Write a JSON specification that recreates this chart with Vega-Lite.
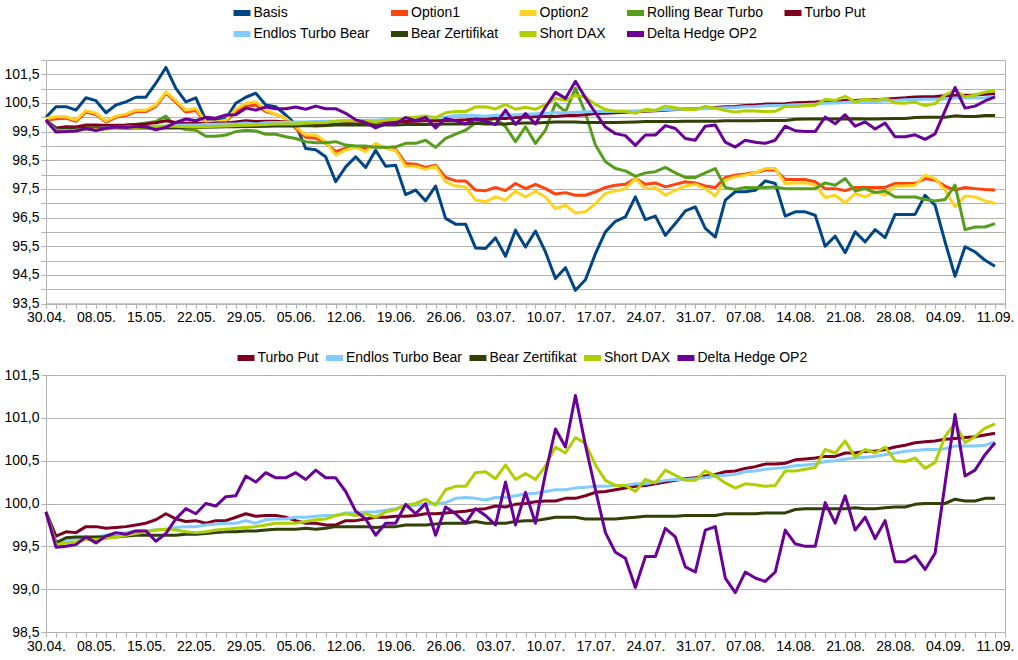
{
"$schema": "https://vega.github.io/schema/vega-lite/v6.json",
"padding": {"left": 3, "top": 4, "right": 0, "bottom": 0},
"background": "white",
"config": {
 "view": {"stroke": "#b3b3b3", "strokeWidth": 1},
 "font": "Liberation Sans",
 "axis": {"labelFont": "Liberation Sans", "labelFontSize": 14, "labelColor": "black", "domainColor": "#b3b3b3", "tickColor": "#b3b3b3", "gridColor": "#b3b3b3", "tickSize": 5, "labelPadding": 2, "title": null, "labelOverlap": false, "labelFlush": false},
 "legend": {"labelFont": "Liberation Sans", "labelFontSize": 14, "labelColor": "black", "symbolType": "M-1.7,0H1.7", "symbolStrokeWidth": 6, "symbolSize": 100, "labelOffset": 3.5, "columnPadding": 8.5, "rowPadding": -3, "padding": 0, "title": null}
},
"datasets": {"d": [
{"i":0,"d":"30.04.","Basis":100.0,"Option1":99.9,"Option2":99.96,"Rolling Bear Turbo":99.9,"Turbo Put":99.9,"Endlos Turbo Bear":99.9,"Bear Zertifikat":99.9,"Short DAX":99.9,"Delta Hedge OP2":99.9},
{"i":1,"d":"02.05.","Basis":100.37,"Option1":99.95,"Option2":100.02,"Rolling Bear Turbo":99.62,"Turbo Put":99.62,"Endlos Turbo Bear":99.55,"Bear Zertifikat":99.54,"Short DAX":99.52,"Delta Hedge OP2":99.49},
{"i":2,"d":"03.05.","Basis":100.37,"Option1":99.97,"Option2":100.02,"Rolling Bear Turbo":99.64,"Turbo Put":99.67,"Endlos Turbo Bear":99.57,"Bear Zertifikat":99.6,"Short DAX":99.54,"Delta Hedge OP2":99.5},
{"i":3,"d":"04.05.","Basis":100.25,"Option1":99.86,"Option2":99.9,"Rolling Bear Turbo":99.65,"Turbo Put":99.66,"Endlos Turbo Bear":99.59,"Bear Zertifikat":99.61,"Short DAX":99.55,"Delta Hedge OP2":99.52},
{"i":4,"d":"07.05.","Basis":100.68,"Option1":100.18,"Option2":100.23,"Rolling Bear Turbo":99.66,"Turbo Put":99.73,"Endlos Turbo Bear":99.6,"Bear Zertifikat":99.61,"Short DAX":99.58,"Delta Hedge OP2":99.61},
{"i":5,"d":"08.05.","Basis":100.58,"Option1":100.1,"Option2":100.14,"Rolling Bear Turbo":99.67,"Turbo Put":99.73,"Endlos Turbo Bear":99.61,"Bear Zertifikat":99.61,"Short DAX":99.58,"Delta Hedge OP2":99.54},
{"i":6,"d":"09.05.","Basis":100.16,"Option1":99.83,"Option2":99.87,"Rolling Bear Turbo":99.68,"Turbo Put":99.71,"Endlos Turbo Bear":99.63,"Bear Zertifikat":99.61,"Short DAX":99.59,"Delta Hedge OP2":99.62},
{"i":7,"d":"10.05.","Basis":100.43,"Option1":100.0,"Option2":100.04,"Rolling Bear Turbo":99.7,"Turbo Put":99.72,"Endlos Turbo Bear":99.65,"Bear Zertifikat":99.61,"Short DAX":99.61,"Delta Hedge OP2":99.66},
{"i":8,"d":"11.05.","Basis":100.54,"Option1":100.06,"Option2":100.11,"Rolling Bear Turbo":99.72,"Turbo Put":99.73,"Endlos Turbo Bear":99.66,"Bear Zertifikat":99.62,"Short DAX":99.63,"Delta Hedge OP2":99.64},
{"i":9,"d":"14.05.","Basis":100.7,"Option1":100.2,"Option2":100.25,"Rolling Bear Turbo":99.75,"Turbo Put":99.75,"Endlos Turbo Bear":99.68,"Bear Zertifikat":99.63,"Short DAX":99.65,"Delta Hedge OP2":99.68},
{"i":10,"d":"15.05.","Basis":100.7,"Option1":100.2,"Option2":100.25,"Rolling Bear Turbo":99.8,"Turbo Put":99.77,"Endlos Turbo Bear":99.68,"Bear Zertifikat":99.63,"Short DAX":99.67,"Delta Hedge OP2":99.68},
{"i":11,"d":"16.05.","Basis":101.19,"Option1":100.38,"Option2":100.43,"Rolling Bear Turbo":99.85,"Turbo Put":99.81,"Endlos Turbo Bear":99.69,"Bear Zertifikat":99.63,"Short DAX":99.69,"Delta Hedge OP2":99.56},
{"i":12,"d":"17.05.","Basis":101.74,"Option1":100.84,"Option2":100.89,"Rolling Bear Turbo":100.04,"Turbo Put":99.88,"Endlos Turbo Bear":99.7,"Bear Zertifikat":99.63,"Short DAX":99.7,"Delta Hedge OP2":99.65},
{"i":13,"d":"18.05.","Basis":101.01,"Option1":100.53,"Option2":100.58,"Rolling Bear Turbo":99.68,"Turbo Put":99.82,"Endlos Turbo Bear":99.72,"Bear Zertifikat":99.63,"Short DAX":99.69,"Delta Hedge OP2":99.82},
{"i":14,"d":"21.05.","Basis":100.54,"Option1":100.18,"Option2":100.25,"Rolling Bear Turbo":99.57,"Turbo Put":99.79,"Endlos Turbo Bear":99.73,"Bear Zertifikat":99.64,"Short DAX":99.67,"Delta Hedge OP2":99.94},
{"i":15,"d":"22.05.","Basis":100.68,"Option1":100.24,"Option2":100.31,"Rolling Bear Turbo":99.55,"Turbo Put":99.8,"Endlos Turbo Bear":99.73,"Bear Zertifikat":99.64,"Short DAX":99.66,"Delta Hedge OP2":99.88},
{"i":16,"d":"23.05.","Basis":99.9,"Option1":99.8,"Option2":99.84,"Rolling Bear Turbo":99.34,"Turbo Put":99.77,"Endlos Turbo Bear":99.75,"Bear Zertifikat":99.65,"Short DAX":99.67,"Delta Hedge OP2":100.0},
{"i":17,"d":"24.05.","Basis":99.9,"Option1":99.8,"Option2":99.84,"Rolling Bear Turbo":99.34,"Turbo Put":99.8,"Endlos Turbo Bear":99.76,"Bear Zertifikat":99.66,"Short DAX":99.69,"Delta Hedge OP2":99.97},
{"i":18,"d":"25.05.","Basis":99.95,"Option1":99.86,"Option2":99.9,"Rolling Bear Turbo":99.38,"Turbo Put":99.8,"Endlos Turbo Bear":99.77,"Bear Zertifikat":99.67,"Short DAX":99.7,"Delta Hedge OP2":100.08},
{"i":19,"d":"28.05.","Basis":100.49,"Option1":100.2,"Option2":100.28,"Rolling Bear Turbo":99.5,"Turbo Put":99.84,"Endlos Turbo Bear":99.77,"Bear Zertifikat":99.67,"Short DAX":99.71,"Delta Hedge OP2":100.09},
{"i":20,"d":"29.05.","Basis":100.7,"Option1":100.38,"Option2":100.49,"Rolling Bear Turbo":99.55,"Turbo Put":99.88,"Endlos Turbo Bear":99.8,"Bear Zertifikat":99.68,"Short DAX":99.72,"Delta Hedge OP2":100.32},
{"i":21,"d":"30.05.","Basis":100.84,"Option1":100.43,"Option2":100.54,"Rolling Bear Turbo":99.52,"Turbo Put":99.85,"Endlos Turbo Bear":99.77,"Bear Zertifikat":99.68,"Short DAX":99.73,"Delta Hedge OP2":100.25},
{"i":22,"d":"31.05.","Basis":100.43,"Option1":100.2,"Option2":100.25,"Rolling Bear Turbo":99.41,"Turbo Put":99.86,"Endlos Turbo Bear":99.81,"Bear Zertifikat":99.69,"Short DAX":99.75,"Delta Hedge OP2":100.36},
{"i":23,"d":"01.06.","Basis":100.37,"Option1":100.1,"Option2":100.1,"Rolling Bear Turbo":99.41,"Turbo Put":99.86,"Endlos Turbo Bear":99.82,"Bear Zertifikat":99.7,"Short DAX":99.77,"Delta Hedge OP2":100.3},
{"i":24,"d":"04.06.","Basis":100.08,"Option1":99.96,"Option2":99.96,"Rolling Bear Turbo":99.32,"Turbo Put":99.84,"Endlos Turbo Bear":99.82,"Bear Zertifikat":99.7,"Short DAX":99.77,"Delta Hedge OP2":100.3},
{"i":25,"d":"05.06.","Basis":99.75,"Option1":99.61,"Option2":99.67,"Rolling Bear Turbo":99.26,"Turbo Put":99.8,"Endlos Turbo Bear":99.84,"Bear Zertifikat":99.7,"Short DAX":99.77,"Delta Hedge OP2":100.36},
{"i":26,"d":"06.06.","Basis":98.91,"Option1":99.3,"Option2":99.38,"Rolling Bear Turbo":99.15,"Turbo Put":99.77,"Endlos Turbo Bear":99.84,"Bear Zertifikat":99.71,"Short DAX":99.79,"Delta Hedge OP2":100.28},
{"i":27,"d":"07.06.","Basis":98.87,"Option1":99.27,"Option2":99.38,"Rolling Bear Turbo":99.11,"Turbo Put":99.77,"Endlos Turbo Bear":99.85,"Bear Zertifikat":99.7,"Short DAX":99.81,"Delta Hedge OP2":100.39},
{"i":28,"d":"08.06.","Basis":98.62,"Option1":99.11,"Option2":99.15,"Rolling Bear Turbo":99.11,"Turbo Put":99.75,"Endlos Turbo Bear":99.86,"Bear Zertifikat":99.71,"Short DAX":99.82,"Delta Hedge OP2":100.3},
{"i":29,"d":"11.06.","Basis":97.75,"Option1":98.8,"Option2":98.68,"Rolling Bear Turbo":99.15,"Turbo Put":99.75,"Endlos Turbo Bear":99.86,"Bear Zertifikat":99.73,"Short DAX":99.86,"Delta Hedge OP2":100.3},
{"i":30,"d":"12.06.","Basis":98.27,"Option1":98.92,"Option2":98.86,"Rolling Bear Turbo":99.03,"Turbo Put":99.8,"Endlos Turbo Bear":99.89,"Bear Zertifikat":99.73,"Short DAX":99.88,"Delta Hedge OP2":100.14},
{"i":31,"d":"13.06.","Basis":98.62,"Option1":98.95,"Option2":98.95,"Rolling Bear Turbo":99.0,"Turbo Put":99.8,"Endlos Turbo Bear":99.89,"Bear Zertifikat":99.73,"Short DAX":99.86,"Delta Hedge OP2":99.91},
{"i":32,"d":"14.06.","Basis":98.25,"Option1":98.92,"Option2":98.8,"Rolling Bear Turbo":99.0,"Turbo Put":99.82,"Endlos Turbo Bear":99.9,"Bear Zertifikat":99.73,"Short DAX":99.88,"Delta Hedge OP2":99.82},
{"i":33,"d":"15.06.","Basis":98.85,"Option1":98.99,"Option2":99.09,"Rolling Bear Turbo":98.95,"Turbo Put":99.84,"Endlos Turbo Bear":99.9,"Bear Zertifikat":99.72,"Short DAX":99.84,"Delta Hedge OP2":99.63},
{"i":34,"d":"18.06.","Basis":98.29,"Option1":98.95,"Option2":98.92,"Rolling Bear Turbo":98.95,"Turbo Put":99.84,"Endlos Turbo Bear":99.92,"Bear Zertifikat":99.73,"Short DAX":99.9,"Delta Hedge OP2":99.77},
{"i":35,"d":"19.06.","Basis":98.33,"Option1":98.88,"Option2":98.84,"Rolling Bear Turbo":98.97,"Turbo Put":99.85,"Endlos Turbo Bear":99.94,"Bear Zertifikat":99.73,"Short DAX":99.93,"Delta Hedge OP2":99.77},
{"i":36,"d":"20.06.","Basis":97.3,"Option1":98.39,"Option2":98.29,"Rolling Bear Turbo":99.09,"Turbo Put":99.85,"Endlos Turbo Bear":99.97,"Bear Zertifikat":99.75,"Short DAX":99.98,"Delta Hedge OP2":99.99},
{"i":37,"d":"21.06.","Basis":97.46,"Option1":98.36,"Option2":98.29,"Rolling Bear Turbo":99.09,"Turbo Put":99.86,"Endlos Turbo Bear":99.98,"Bear Zertifikat":99.75,"Short DAX":100.0,"Delta Hedge OP2":99.88},
{"i":38,"d":"22.06.","Basis":97.08,"Option1":98.25,"Option2":98.18,"Rolling Bear Turbo":99.2,"Turbo Put":99.88,"Endlos Turbo Bear":99.99,"Bear Zertifikat":99.75,"Short DAX":100.05,"Delta Hedge OP2":100.0},
{"i":39,"d":"25.06.","Basis":97.6,"Option1":98.33,"Option2":98.29,"Rolling Bear Turbo":98.95,"Turbo Put":99.88,"Endlos Turbo Bear":100.0,"Bear Zertifikat":99.76,"Short DAX":99.98,"Delta Hedge OP2":99.63},
{"i":40,"d":"26.06.","Basis":96.47,"Option1":97.9,"Option2":97.75,"Rolling Bear Turbo":99.26,"Turbo Put":99.89,"Endlos Turbo Bear":100.01,"Bear Zertifikat":99.77,"Short DAX":100.16,"Delta Hedge OP2":99.96},
{"i":41,"d":"27.06.","Basis":96.27,"Option1":97.78,"Option2":97.6,"Rolling Bear Turbo":99.41,"Turbo Put":99.9,"Endlos Turbo Bear":100.06,"Bear Zertifikat":99.77,"Short DAX":100.2,"Delta Hedge OP2":99.88},
{"i":42,"d":"28.06.","Basis":96.27,"Option1":97.78,"Option2":97.57,"Rolling Bear Turbo":99.55,"Turbo Put":99.91,"Endlos Turbo Bear":100.07,"Bear Zertifikat":99.77,"Short DAX":100.2,"Delta Hedge OP2":99.77},
{"i":43,"d":"29.06.","Basis":95.44,"Option1":97.46,"Option2":97.11,"Rolling Bear Turbo":99.81,"Turbo Put":99.93,"Endlos Turbo Bear":100.06,"Bear Zertifikat":99.79,"Short DAX":100.36,"Delta Hedge OP2":99.94},
{"i":44,"d":"02.07.","Basis":95.42,"Option1":97.44,"Option2":97.05,"Rolling Bear Turbo":99.84,"Turbo Put":99.94,"Endlos Turbo Bear":100.04,"Bear Zertifikat":99.77,"Short DAX":100.37,"Delta Hedge OP2":99.86},
{"i":45,"d":"03.07.","Basis":95.79,"Option1":97.55,"Option2":97.22,"Rolling Bear Turbo":99.96,"Turbo Put":99.97,"Endlos Turbo Bear":100.07,"Bear Zertifikat":99.77,"Short DAX":100.29,"Delta Hedge OP2":99.75},
{"i":46,"d":"04.07.","Basis":95.15,"Option1":97.44,"Option2":97.11,"Rolling Bear Turbo":99.67,"Turbo Put":99.96,"Endlos Turbo Bear":100.07,"Bear Zertifikat":99.77,"Short DAX":100.45,"Delta Hedge OP2":100.25},
{"i":47,"d":"05.07.","Basis":96.06,"Option1":97.69,"Option2":97.42,"Rolling Bear Turbo":99.15,"Turbo Put":99.99,"Endlos Turbo Bear":100.09,"Bear Zertifikat":99.79,"Short DAX":100.28,"Delta Hedge OP2":99.75},
{"i":48,"d":"06.07.","Basis":95.47,"Option1":97.51,"Option2":97.22,"Rolling Bear Turbo":99.67,"Turbo Put":100.0,"Endlos Turbo Bear":100.11,"Bear Zertifikat":99.8,"Short DAX":100.35,"Delta Hedge OP2":100.13},
{"i":49,"d":"09.07.","Basis":96.03,"Option1":97.66,"Option2":97.42,"Rolling Bear Turbo":99.09,"Turbo Put":100.02,"Endlos Turbo Bear":100.12,"Bear Zertifikat":99.8,"Short DAX":100.28,"Delta Hedge OP2":99.77},
{"i":50,"d":"10.07.","Basis":95.3,"Option1":97.51,"Option2":97.22,"Rolling Bear Turbo":99.55,"Turbo Put":100.03,"Endlos Turbo Bear":100.14,"Bear Zertifikat":99.82,"Short DAX":100.44,"Delta Hedge OP2":100.35},
{"i":51,"d":"11.07.","Basis":94.37,"Option1":97.32,"Option2":96.81,"Rolling Bear Turbo":100.49,"Turbo Put":100.03,"Endlos Turbo Bear":100.16,"Bear Zertifikat":99.84,"Short DAX":100.66,"Delta Hedge OP2":100.87},
{"i":52,"d":"12.07.","Basis":94.75,"Option1":97.37,"Option2":96.93,"Rolling Bear Turbo":100.19,"Turbo Put":100.06,"Endlos Turbo Bear":100.16,"Bear Zertifikat":99.84,"Short DAX":100.59,"Delta Hedge OP2":100.66},
{"i":53,"d":"13.07.","Basis":93.96,"Option1":97.28,"Option2":96.66,"Rolling Bear Turbo":101.01,"Turbo Put":100.06,"Endlos Turbo Bear":100.18,"Bear Zertifikat":99.84,"Short DAX":100.77,"Delta Hedge OP2":101.26},
{"i":54,"d":"16.07.","Basis":94.33,"Option1":97.28,"Option2":96.7,"Rolling Bear Turbo":100.14,"Turbo Put":100.09,"Endlos Turbo Bear":100.19,"Bear Zertifikat":99.82,"Short DAX":100.7,"Delta Hedge OP2":100.68},
{"i":55,"d":"17.07.","Basis":95.24,"Option1":97.4,"Option2":96.99,"Rolling Bear Turbo":99.03,"Turbo Put":100.13,"Endlos Turbo Bear":100.2,"Bear Zertifikat":99.82,"Short DAX":100.45,"Delta Hedge OP2":100.16},
{"i":56,"d":"18.07.","Basis":96.0,"Option1":97.55,"Option2":97.34,"Rolling Bear Turbo":98.45,"Turbo Put":100.14,"Endlos Turbo Bear":100.2,"Bear Zertifikat":99.82,"Short DAX":100.27,"Delta Hedge OP2":99.66},
{"i":57,"d":"19.07.","Basis":96.37,"Option1":97.63,"Option2":97.43,"Rolling Bear Turbo":98.21,"Turbo Put":100.16,"Endlos Turbo Bear":100.21,"Bear Zertifikat":99.82,"Short DAX":100.21,"Delta Hedge OP2":99.43},
{"i":58,"d":"20.07.","Basis":96.52,"Option1":97.66,"Option2":97.51,"Rolling Bear Turbo":98.13,"Turbo Put":100.18,"Endlos Turbo Bear":100.21,"Bear Zertifikat":99.83,"Short DAX":100.21,"Delta Hedge OP2":99.36},
{"i":59,"d":"23.07.","Basis":97.22,"Option1":97.86,"Option2":97.86,"Rolling Bear Turbo":97.94,"Turbo Put":100.2,"Endlos Turbo Bear":100.23,"Bear Zertifikat":99.84,"Short DAX":100.14,"Delta Hedge OP2":99.02},
{"i":60,"d":"24.07.","Basis":96.43,"Option1":97.66,"Option2":97.51,"Rolling Bear Turbo":98.06,"Turbo Put":100.21,"Endlos Turbo Bear":100.23,"Bear Zertifikat":99.85,"Short DAX":100.28,"Delta Hedge OP2":99.38},
{"i":61,"d":"25.07.","Basis":96.55,"Option1":97.71,"Option2":97.54,"Rolling Bear Turbo":98.1,"Turbo Put":100.23,"Endlos Turbo Bear":100.25,"Bear Zertifikat":99.85,"Short DAX":100.24,"Delta Hedge OP2":99.38},
{"i":62,"d":"26.07.","Basis":95.88,"Option1":97.57,"Option2":97.28,"Rolling Bear Turbo":98.25,"Turbo Put":100.25,"Endlos Turbo Bear":100.27,"Bear Zertifikat":99.85,"Short DAX":100.39,"Delta Hedge OP2":99.71},
{"i":63,"d":"27.07.","Basis":96.29,"Option1":97.66,"Option2":97.46,"Rolling Bear Turbo":98.06,"Turbo Put":100.27,"Endlos Turbo Bear":100.28,"Bear Zertifikat":99.85,"Short DAX":100.33,"Delta Hedge OP2":99.61},
{"i":64,"d":"30.07.","Basis":96.73,"Option1":97.75,"Option2":97.6,"Rolling Bear Turbo":97.9,"Turbo Put":100.29,"Endlos Turbo Bear":100.28,"Bear Zertifikat":99.86,"Short DAX":100.27,"Delta Hedge OP2":99.26},
{"i":65,"d":"31.07.","Basis":96.87,"Option1":97.71,"Option2":97.66,"Rolling Bear Turbo":97.9,"Turbo Put":100.3,"Endlos Turbo Bear":100.29,"Bear Zertifikat":99.86,"Short DAX":100.27,"Delta Hedge OP2":99.2},
{"i":66,"d":"01.08.","Basis":96.12,"Option1":97.6,"Option2":97.51,"Rolling Bear Turbo":98.06,"Turbo Put":100.32,"Endlos Turbo Bear":100.3,"Bear Zertifikat":99.86,"Short DAX":100.38,"Delta Hedge OP2":99.69},
{"i":67,"d":"02.08.","Basis":95.82,"Option1":97.55,"Option2":97.25,"Rolling Bear Turbo":98.21,"Turbo Put":100.34,"Endlos Turbo Bear":100.32,"Bear Zertifikat":99.86,"Short DAX":100.32,"Delta Hedge OP2":99.73},
{"i":68,"d":"03.08.","Basis":97.11,"Option1":97.9,"Option2":97.81,"Rolling Bear Turbo":97.55,"Turbo Put":100.37,"Endlos Turbo Bear":100.33,"Bear Zertifikat":99.88,"Short DAX":100.24,"Delta Hedge OP2":99.13},
{"i":69,"d":"06.08.","Basis":97.4,"Option1":97.98,"Option2":97.92,"Rolling Bear Turbo":97.48,"Turbo Put":100.38,"Endlos Turbo Bear":100.34,"Bear Zertifikat":99.88,"Short DAX":100.18,"Delta Hedge OP2":98.96},
{"i":70,"d":"07.08.","Basis":97.4,"Option1":98.02,"Option2":97.98,"Rolling Bear Turbo":97.55,"Turbo Put":100.41,"Endlos Turbo Bear":100.37,"Bear Zertifikat":99.88,"Short DAX":100.23,"Delta Hedge OP2":99.2},
{"i":71,"d":"08.08.","Basis":97.45,"Option1":98.07,"Option2":98.07,"Rolling Bear Turbo":97.54,"Turbo Put":100.43,"Endlos Turbo Bear":100.38,"Bear Zertifikat":99.88,"Short DAX":100.22,"Delta Hedge OP2":99.13},
{"i":72,"d":"09.08.","Basis":97.78,"Option1":98.16,"Option2":98.21,"Rolling Bear Turbo":97.55,"Turbo Put":100.46,"Endlos Turbo Bear":100.4,"Bear Zertifikat":99.89,"Short DAX":100.2,"Delta Hedge OP2":99.09},
{"i":73,"d":"10.08.","Basis":97.69,"Option1":98.16,"Option2":98.21,"Rolling Bear Turbo":97.57,"Turbo Put":100.46,"Endlos Turbo Bear":100.41,"Bear Zertifikat":99.89,"Short DAX":100.21,"Delta Hedge OP2":99.2},
{"i":74,"d":"13.08.","Basis":96.55,"Option1":97.83,"Option2":97.69,"Rolling Bear Turbo":97.51,"Turbo Put":100.47,"Endlos Turbo Bear":100.42,"Bear Zertifikat":99.89,"Short DAX":100.38,"Delta Hedge OP2":99.69},
{"i":75,"d":"14.08.","Basis":96.7,"Option1":97.83,"Option2":97.71,"Rolling Bear Turbo":97.51,"Turbo Put":100.51,"Endlos Turbo Bear":100.44,"Bear Zertifikat":99.93,"Short DAX":100.38,"Delta Hedge OP2":99.53},
{"i":76,"d":"15.08.","Basis":96.7,"Option1":97.83,"Option2":97.71,"Rolling Bear Turbo":97.51,"Turbo Put":100.52,"Endlos Turbo Bear":100.45,"Bear Zertifikat":99.94,"Short DAX":100.4,"Delta Hedge OP2":99.5},
{"i":77,"d":"16.08.","Basis":96.58,"Option1":97.75,"Option2":97.63,"Rolling Bear Turbo":97.51,"Turbo Put":100.53,"Endlos Turbo Bear":100.46,"Bear Zertifikat":99.94,"Short DAX":100.42,"Delta Hedge OP2":99.5},
{"i":78,"d":"17.08.","Basis":95.5,"Option1":97.51,"Option2":97.2,"Rolling Bear Turbo":97.71,"Turbo Put":100.55,"Endlos Turbo Bear":100.49,"Bear Zertifikat":99.94,"Short DAX":100.63,"Delta Hedge OP2":100.01},
{"i":79,"d":"20.08.","Basis":95.85,"Option1":97.51,"Option2":97.28,"Rolling Bear Turbo":97.63,"Turbo Put":100.55,"Endlos Turbo Bear":100.5,"Bear Zertifikat":99.94,"Short DAX":100.59,"Delta Hedge OP2":99.77},
{"i":80,"d":"21.08.","Basis":95.27,"Option1":97.44,"Option2":97.01,"Rolling Bear Turbo":97.86,"Turbo Put":100.59,"Endlos Turbo Bear":100.52,"Bear Zertifikat":99.94,"Short DAX":100.73,"Delta Hedge OP2":100.09},
{"i":81,"d":"22.08.","Basis":96.0,"Option1":97.55,"Option2":97.34,"Rolling Bear Turbo":97.43,"Turbo Put":100.59,"Endlos Turbo Bear":100.53,"Bear Zertifikat":99.95,"Short DAX":100.54,"Delta Hedge OP2":99.69},
{"i":82,"d":"23.08.","Basis":95.65,"Option1":97.55,"Option2":97.22,"Rolling Bear Turbo":97.51,"Turbo Put":100.61,"Endlos Turbo Bear":100.54,"Bear Zertifikat":99.94,"Short DAX":100.63,"Delta Hedge OP2":99.84},
{"i":83,"d":"24.08.","Basis":96.08,"Option1":97.55,"Option2":97.4,"Rolling Bear Turbo":97.37,"Turbo Put":100.61,"Endlos Turbo Bear":100.55,"Bear Zertifikat":99.94,"Short DAX":100.59,"Delta Hedge OP2":99.59},
{"i":84,"d":"27.08.","Basis":95.8,"Option1":97.55,"Option2":97.28,"Rolling Bear Turbo":97.43,"Turbo Put":100.63,"Endlos Turbo Bear":100.57,"Bear Zertifikat":99.95,"Short DAX":100.66,"Delta Hedge OP2":99.8},
{"i":85,"d":"28.08.","Basis":96.61,"Option1":97.69,"Option2":97.6,"Rolling Bear Turbo":97.22,"Turbo Put":100.66,"Endlos Turbo Bear":100.59,"Bear Zertifikat":99.96,"Short DAX":100.5,"Delta Hedge OP2":99.32},
{"i":86,"d":"29.08.","Basis":96.61,"Option1":97.69,"Option2":97.6,"Rolling Bear Turbo":97.22,"Turbo Put":100.68,"Endlos Turbo Bear":100.61,"Bear Zertifikat":99.96,"Short DAX":100.49,"Delta Hedge OP2":99.32},
{"i":87,"d":"30.08.","Basis":96.61,"Option1":97.69,"Option2":97.63,"Rolling Bear Turbo":97.22,"Turbo Put":100.71,"Endlos Turbo Bear":100.62,"Bear Zertifikat":99.99,"Short DAX":100.53,"Delta Hedge OP2":99.39},
{"i":88,"d":"31.08.","Basis":97.28,"Option1":97.86,"Option2":97.98,"Rolling Bear Turbo":97.13,"Turbo Put":100.72,"Endlos Turbo Bear":100.63,"Bear Zertifikat":100.0,"Short DAX":100.41,"Delta Hedge OP2":99.23},
{"i":89,"d":"03.09.","Basis":96.93,"Option1":97.81,"Option2":97.86,"Rolling Bear Turbo":97.08,"Turbo Put":100.73,"Endlos Turbo Bear":100.63,"Bear Zertifikat":100.0,"Short DAX":100.48,"Delta Hedge OP2":99.42},
{"i":90,"d":"04.09.","Basis":95.65,"Option1":97.6,"Option2":97.46,"Rolling Bear Turbo":97.13,"Turbo Put":100.75,"Endlos Turbo Bear":100.64,"Bear Zertifikat":100.0,"Short DAX":100.78,"Delta Hedge OP2":100.23},
{"i":91,"d":"05.09.","Basis":94.45,"Option1":97.46,"Option2":96.87,"Rolling Bear Turbo":97.63,"Turbo Put":100.76,"Endlos Turbo Bear":100.67,"Bear Zertifikat":100.05,"Short DAX":100.94,"Delta Hedge OP2":101.04},
{"i":92,"d":"06.09.","Basis":95.48,"Option1":97.55,"Option2":97.25,"Rolling Bear Turbo":96.08,"Turbo Put":100.77,"Endlos Turbo Bear":100.67,"Bear Zertifikat":100.03,"Short DAX":100.71,"Delta Hedge OP2":100.32},
{"i":93,"d":"07.09.","Basis":95.3,"Option1":97.51,"Option2":97.22,"Rolling Bear Turbo":96.17,"Turbo Put":100.78,"Endlos Turbo Bear":100.67,"Bear Zertifikat":100.03,"Short DAX":100.78,"Delta Hedge OP2":100.39},
{"i":94,"d":"10.09.","Basis":95.01,"Option1":97.48,"Option2":97.08,"Rolling Bear Turbo":96.17,"Turbo Put":100.8,"Endlos Turbo Bear":100.68,"Bear Zertifikat":100.06,"Short DAX":100.88,"Delta Hedge OP2":100.57},
{"i":95,"d":"11.09.","Basis":94.8,"Option1":97.46,"Option2":96.99,"Rolling Bear Turbo":96.29,"Turbo Put":100.82,"Endlos Turbo Bear":100.72,"Bear Zertifikat":100.06,"Short DAX":100.93,"Delta Hedge OP2":100.71}
]},
"vconcat": [
 {
  "width": 959, "height": 243.5,
  "data": {"name": "d"},
  "transform": [{"fold": ["Basis","Option1","Option2","Rolling Bear Turbo","Turbo Put","Endlos Turbo Bear","Bear Zertifikat","Short DAX","Delta Hedge OP2"], "as": ["series","value"]}],
  "mark": {"type": "line", "strokeWidth": 3, "strokeJoin": "round"},
  "encoding": {
   "x": {"field": "i", "type": "quantitative", "scale": {"domain": [0, 96], "nice": false, "zero": false},
    "axis": {"grid": false, "values": [0,1,2,3,4,5,6,7,8,9,10,11,12,13,14,15,16,17,18,19,20,21,22,23,24,25,26,27,28,29,30,31,32,33,34,35,36,37,38,39,40,41,42,43,44,45,46,47,48,49,50,51,52,53,54,55,56,57,58,59,60,61,62,63,64,65,66,67,68,69,70,71,72,73,74,75,76,77,78,79,80,81,82,83,84,85,86,87,88,89,90,91,92,93,94,95,96],
     "labelExpr": "datum.value % 5 == 0 && datum.value < 96 ? ['30.04.','08.05.','15.05.','22.05.','29.05.','05.06.','12.06.','19.06.','26.06.','03.07.','10.07.','17.07.','24.07.','31.07.','07.08.','14.08.','21.08.','28.08.','04.09.','11.09.'][datum.value / 5] : ''"}},
   "y": {"field": "value", "type": "quantitative", "scale": {"domain": [93.5, 102], "nice": false, "zero": false},
    "axis": {"grid": true, "values": [93.5,94,94.5,95,95.5,96,96.5,97,97.5,98,98.5,99,99.5,100,100.5,101,101.5,102],
     "labelExpr": "(datum.value * 2) % 2 == 1 ? replace(format(datum.value, '.1f'), '.', ',') : ''"}},
   "color": {"field": "series", "type": "nominal",
    "scale": {"domain": ["Basis","Option1","Option2","Rolling Bear Turbo","Turbo Put","Endlos Turbo Bear","Bear Zertifikat","Short DAX","Delta Hedge OP2"],
     "range": ["#004586","#ff420e","#ffd320","#579d1c","#7e0021","#83caff","#314004","#aecf00","#6a0097"]},
    "legend": {"orient": "none", "legendX": 188, "legendY": -55, "direction": "horizontal", "columns": 5}}
  }
 },
 {
  "width": 959, "height": 257,
  "data": {"name": "d"},
  "transform": [{"fold": ["Turbo Put","Endlos Turbo Bear","Bear Zertifikat","Short DAX","Delta Hedge OP2"], "as": ["series","value"]}],
  "mark": {"type": "line", "strokeWidth": 3, "strokeJoin": "round"},
  "encoding": {
   "x": {"field": "i", "type": "quantitative", "scale": {"domain": [0, 96], "nice": false, "zero": false},
    "axis": {"grid": false, "values": [0,1,2,3,4,5,6,7,8,9,10,11,12,13,14,15,16,17,18,19,20,21,22,23,24,25,26,27,28,29,30,31,32,33,34,35,36,37,38,39,40,41,42,43,44,45,46,47,48,49,50,51,52,53,54,55,56,57,58,59,60,61,62,63,64,65,66,67,68,69,70,71,72,73,74,75,76,77,78,79,80,81,82,83,84,85,86,87,88,89,90,91,92,93,94,95,96],
     "labelExpr": "datum.value % 5 == 0 && datum.value < 96 ? ['30.04.','08.05.','15.05.','22.05.','29.05.','05.06.','12.06.','19.06.','26.06.','03.07.','10.07.','17.07.','24.07.','31.07.','07.08.','14.08.','21.08.','28.08.','04.09.','11.09.'][datum.value / 5] : ''"}},
   "y": {"field": "value", "type": "quantitative", "scale": {"domain": [98.5, 101.5], "nice": false, "zero": false},
    "axis": {"grid": true, "values": [98.5,99,99.5,100,100.5,101,101.5],
     "labelExpr": "replace(format(datum.value, '.1f'), '.', ',')"}},
   "color": {"field": "series", "type": "nominal",
    "scale": {"domain": ["Turbo Put","Endlos Turbo Bear","Bear Zertifikat","Short DAX","Delta Hedge OP2"],
     "range": ["#7e0021","#83caff","#314004","#aecf00","#6a0097"]},
    "legend": {"orient": "none", "legendX": 192, "legendY": -25, "direction": "horizontal", "columnPadding": -5.5}}
  }
 }
],
"spacing": 24,
"resolve": {"scale": {"color": "independent", "y": "independent"}, "legend": {"color": "independent"}}
}
